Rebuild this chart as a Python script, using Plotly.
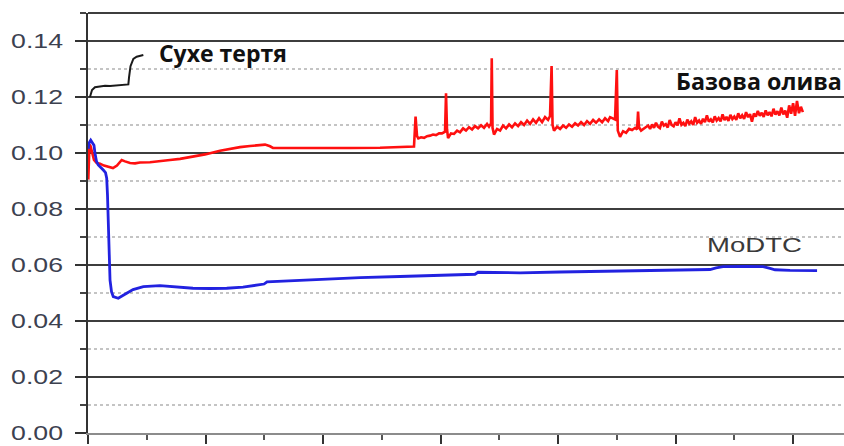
import plotly.graph_objects as go

# Coefficient of friction vs. test time (min)
dry_t = [2.0, 3.1, 4.1, 7.1, 12.3, 17.4, 22.5, 27.6, 32.7, 38.8, 41.2, 41.9, 43.4, 46.3, 49.7, 56.5]
dry_mu = [0.1200, 0.1212, 0.1225, 0.1235, 0.1237, 0.1240, 0.1239, 0.1241, 0.1242, 0.1243,
          0.1245, 0.1270, 0.1310, 0.1336, 0.1344, 0.1350]

base_t = [0.3, 0.8, 1.5, 2.6, 4.1, 6.1, 8.9, 12.3, 16.3, 20.4, 25.5, 29.6, 34.4, 37.8, 42.9,
          48.0, 53.1, 63.3, 73.5, 83.7, 94.0, 107.2, 119.5, 134.8, 145.0, 155.2, 165.5, 173.6,
          180.8, 185.9, 188.9, 206.3, 236.9, 267.6, 298.2, 318.6, 332.9, 334.5, 336.0, 337.3,
          340.1, 343.2, 346.2, 349.3, 352.3, 355.4, 358.5, 361.5, 364.6, 365.6, 366.6, 367.7,
          370.7, 373.8, 376.9, 379.9, 383.0, 386.0, 389.1, 392.2, 395.2, 398.3, 401.4, 404.4,
          407.5, 409.5, 411.6, 412.3, 413.1, 414.6, 417.7, 420.8, 423.8, 426.9, 430.0, 433.0,
          436.1, 439.2, 442.2, 445.3, 448.4, 451.4, 454.5, 457.5, 460.6, 463.7, 466.7, 469.8,
          471.8, 473.4, 474.4, 475.9, 479.0, 482.1, 485.1, 488.2, 491.2, 494.3, 497.4, 500.4,
          503.5, 506.6, 509.6, 512.7, 515.8, 518.8, 521.9, 525.0, 528.0, 531.1, 533.1, 538.2,
          540.0, 541.0, 543.3, 546.4, 549.5, 552.5, 555.6, 558.7, 560.7, 561.7, 562.7, 564.8,
          567.8,
          572, 574, 576, 578, 580, 582, 584, 586, 588, 590, 592, 594, 596, 598, 600, 602, 604,
          606, 608, 610, 612, 614, 616, 618, 620, 622, 624, 626, 628, 630, 632, 634, 636, 638,
          640, 642, 644, 646, 648, 650, 652, 654, 656, 658, 660, 662, 664, 666, 668, 670, 672,
          674, 676, 678, 680, 682, 684, 686, 688, 690, 692, 694, 696, 698, 700, 702, 704, 706,
          708, 710, 712, 714, 716, 718, 720, 722, 724, 726, 728, 730]
base_mu = [0.0905, 0.0990, 0.1030, 0.1025, 0.1000, 0.0975, 0.0964, 0.0962, 0.0955, 0.0950,
           0.0946, 0.0955, 0.0975, 0.0970, 0.0964, 0.0963, 0.0966, 0.0967, 0.0970, 0.0975,
           0.0979, 0.0987, 0.0995, 0.1008, 0.1015, 0.1021, 0.1025, 0.1028, 0.1030, 0.1024,
           0.1018, 0.1018, 0.1017, 0.1018, 0.1019, 0.1020, 0.1023, 0.1130, 0.1060, 0.1052,
           0.1056, 0.1054, 0.1060, 0.1062, 0.1066, 0.1064, 0.1070, 0.1070, 0.1076, 0.1213,
           0.1085, 0.1053, 0.1070, 0.1068, 0.1080, 0.1074, 0.1088, 0.1080, 0.1092, 0.1084,
           0.1096, 0.1088, 0.1099, 0.1090, 0.1104, 0.1094, 0.1106, 0.1338, 0.1090, 0.1066,
           0.1086, 0.1080, 0.1098, 0.1088, 0.1102, 0.1092, 0.1106, 0.1096, 0.1110, 0.1100,
           0.1116, 0.1104, 0.1120, 0.1108, 0.1124, 0.1110, 0.1128, 0.1118, 0.1132, 0.1311,
           0.1100, 0.1080, 0.1094, 0.1086, 0.1098, 0.1090, 0.1102, 0.1094, 0.1106, 0.1098,
           0.1110, 0.1100, 0.1114, 0.1104, 0.1118, 0.1108, 0.1120, 0.1110, 0.1124, 0.1114,
           0.1128, 0.1120, 0.1296, 0.1080, 0.1058, 0.1078, 0.1072, 0.1086, 0.1082, 0.1090,
           0.1084, 0.1148, 0.1092, 0.1080, 0.1088,
           0.1098, 0.1086, 0.1102, 0.1090, 0.1108, 0.1094, 0.1089, 0.1112, 0.1098, 0.1103,
           0.1091, 0.1118, 0.1100, 0.1095, 0.1110, 0.1099, 0.1124, 0.1101, 0.1108, 0.1096,
           0.1119, 0.1105, 0.1113, 0.1100, 0.1128, 0.1108, 0.1116, 0.1104, 0.1122, 0.1110,
           0.1134, 0.1112, 0.1120, 0.1109, 0.1131, 0.1116, 0.1125, 0.1113, 0.1138, 0.1118,
           0.1129, 0.1115, 0.1136, 0.1121, 0.1130, 0.1118, 0.1142, 0.1124, 0.1135, 0.1122,
           0.1146, 0.1128, 0.1139, 0.1112, 0.1141, 0.1130, 0.1150, 0.1133, 0.1144, 0.1129,
           0.1152, 0.1135, 0.1146, 0.1131, 0.1158, 0.1137, 0.1149, 0.1134, 0.1162, 0.1138,
           0.1151, 0.1126, 0.1170, 0.1140, 0.1178, 0.1133, 0.1186, 0.1142, 0.1165, 0.1146]

modtc_t = [0.3, 1.0, 2.8, 4.1, 5.4, 6.1, 7.1, 8.7, 10.5, 13.3, 15.6, 17.9, 19.1, 19.9, 20.7,
           21.7, 22.5, 24.0, 25.8, 30.9, 34.7, 39.5, 46.0, 56.5, 73.5, 89.9, 107.2, 124.6,
           141.7, 158.3, 175.7, 179.8, 182.8, 196.1, 216.5, 247.2, 277.8, 318.6, 359.5, 395.2,
           398.3, 410.6, 441.2, 482.0, 522.9, 573.9, 625.0, 635.2, 641.4, 648.5, 671.0, 689.4,
           696.5, 701.6, 716.9, 732.2, 744.5]
modtc_mu = [0.1015, 0.1035, 0.1046, 0.1040, 0.1035, 0.1028, 0.1000, 0.0970, 0.0957, 0.0945,
            0.0939, 0.0930, 0.0910, 0.0850, 0.0760, 0.0640, 0.0546, 0.0505, 0.0487, 0.0481,
            0.0490, 0.0499, 0.0512, 0.0523, 0.0526, 0.0522, 0.0517, 0.0516, 0.0517, 0.0521,
            0.0529, 0.0532, 0.0540, 0.0542, 0.0546, 0.0551, 0.0555, 0.0559, 0.0563, 0.0567,
            0.0574, 0.0573, 0.0572, 0.0575, 0.0577, 0.0580, 0.0583, 0.0584, 0.0590, 0.0594,
            0.0595, 0.0594, 0.0588, 0.0583, 0.0581, 0.0580, 0.0580]

series_names = ["Сухе тертя", "Базова олива", "MoDTC"]
label_t = [137.9, 685.3, 680.7]
label_mu = [0.1357, 0.1257, 0.0671]

fig = go.Figure()
fig.add_trace(go.Scatter(x=dry_t, y=dry_mu, mode="lines", name=series_names[0],
                         line=dict(color="#1a1a1a", width=2)))
fig.add_trace(go.Scatter(x=base_t, y=base_mu, mode="lines", name=series_names[1],
                         line=dict(color="#ff1010", width=2.6)))
fig.add_trace(go.Scatter(x=modtc_t, y=modtc_mu, mode="lines", name=series_names[2],
                         line=dict(color="#2222e0", width=2.8)))

bold_font = dict(family="Open Sans, Liberation Sans, Arial", size=23, color="#111111", weight=700)
label_fonts = [bold_font, bold_font,
               dict(family="Liberation Sans, Arial", size=20, color="#3a3a3a")]
for name, t, mu, f in zip(series_names, label_t, label_mu, label_fonts):
    fig.add_annotation(x=t, y=mu, xref="x", yref="y", text=name, showarrow=False,
                       xanchor="center", yanchor="middle", font=f)

# dark frame line along the top of the plot area
fig.add_shape(type="line", xref="paper", yref="paper", x0=0, x1=1, y0=1, y1=1,
              line=dict(color="#3d3d3d", width=2))

fig.update_layout(
    width=844, height=446,
    margin=dict(l=88, r=0, t=13, b=13),
    paper_bgcolor="white", plot_bgcolor="white",
    showlegend=False,
    xaxis=dict(range=[0, 772], dtick=120, tick0=0, showgrid=False, zeroline=False,
               showline=True, linecolor="#8c8c8c", linewidth=2,
               ticks="outside", ticklen=9, tickwidth=2, tickcolor="#333333",
               showticklabels=False,
               minor=dict(dtick=60, ticks="outside", ticklen=5, tickwidth=1.5,
                          tickcolor="#555555", showgrid=False)),
    yaxis=dict(range=[0, 0.15], dtick=0.02, tick0=0, tickformat=".2f",
               showgrid=True, gridcolor="#3d3d3d", gridwidth=2, zeroline=False,
               showline=True, linecolor="#333333", linewidth=2,
               ticks="outside", ticklen=11, tickwidth=2, tickcolor="#333333",
               ticklabelstandoff=8,
               tickfont=dict(family="Liberation Sans, Arial", size=20, color="#3c4150"),
               minor=dict(dtick=0.01, ticks="outside", ticklen=6, tickwidth=1.5,
                          tickcolor="#444444", showgrid=True, gridcolor="#c4c4c4",
                          griddash="dot", gridwidth=1.5)),
)

# widen the labels horizontally to their printed proportions
widen_js = """
var gd = document.getElementById('{plot_id}');
function widen(el, w) {
  var b = el.getBBox();
  if (!b.width) return;
  var s = w / b.width;
  var a = el.getAttribute('text-anchor') || 'start';
  var cx = a === 'end' ? b.x + b.width : (a === 'middle' ? b.x + b.width / 2 : b.x);
  var prev = el.getAttribute('transform') || '';
  el.setAttribute('transform', prev + ' translate(' + cx + ',0) scale(' + s + ',1) translate(' + (-cx) + ',0)');
}
gd.querySelectorAll('.ytick text').forEach(function (t) { widen(t, 52); });
var widths = [128, 166, 95];
gd.querySelectorAll('g.annotation').forEach(function (g) {
  var i = parseInt(g.getAttribute('data-index'), 10);
  var t = g.querySelector('text.annotation-text');
  if (t && widths[i]) widen(t, widths[i]);
});
"""

fig.write_html("out.html", post_script=widen_js)
